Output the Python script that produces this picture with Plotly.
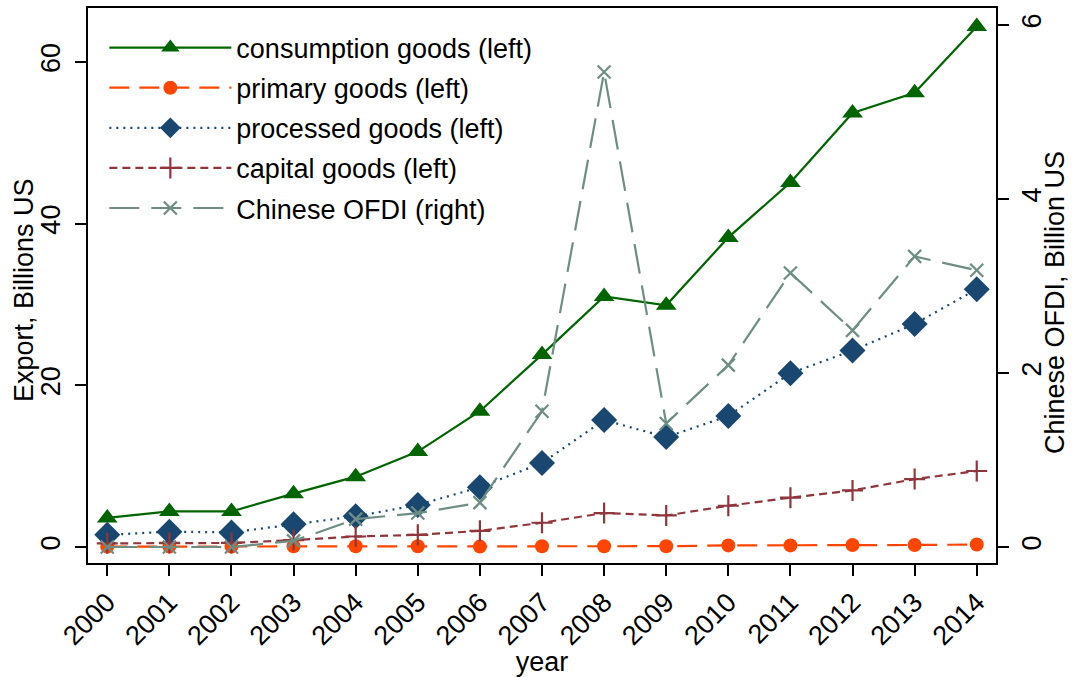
import plotly.graph_objects as go

# Years on the x axis
years = list(range(2000, 2015))

# Exports by type of goods, billions US$ (left axis)
consumption = [3.6, 4.4, 4.4, 6.6, 8.7, 11.8, 16.8, 23.8, 31.0, 29.9, 38.3, 45.1, 53.7, 56.2, 64.4]
primary = [0.05, 0.05, 0.05, 0.1, 0.1, 0.1, 0.05, 0.1, 0.1, 0.1, 0.2, 0.2, 0.25, 0.25, 0.3]
processed = [1.5, 1.9, 1.8, 2.8, 3.8, 5.2, 7.4, 10.4, 15.7, 13.6, 16.2, 21.5, 24.3, 27.6, 31.9]
capital = [0.45, 0.5, 0.5, 0.85, 1.3, 1.5, 2.0, 3.0, 4.2, 3.9, 5.1, 6.1, 7.0, 8.4, 9.4]

# Chinese outward FDI, billions US$ (right axis)
ofdi = [0.0, 0.0, 0.0, 0.07, 0.32, 0.39, 0.51, 1.56, 5.46, 1.42, 2.09, 3.15, 2.49, 3.34, 3.18]

left_ticks = [0, 20, 40, 60]
right_ticks = [0, 2, 4, 6]

FONT = "Liberation Sans, Arial, sans-serif"
FS = 27
GREEN = "#006400"
ORANGE = "#ff4500"
NAVY = "#1a476f"
MAROON = "#90353b"
TEAL = "#6e8e84"

fig = go.Figure()

fig.add_trace(go.Scatter(
    x=years, y=consumption, name="consumption goods (left)", mode="lines+markers",
    legendgroup="a",
    line=dict(color=GREEN, width=2.2),
    marker=dict(symbol="triangle-up", size=18, color=GREEN),
))
fig.add_trace(go.Scatter(
    x=years, y=primary, name="primary goods (left)", mode="lines+markers",
    legendgroup="b",
    line=dict(color=ORANGE, width=2.2, dash="20px,10px"),
    marker=dict(symbol="circle", size=14, color=ORANGE),
))
fig.add_trace(go.Scatter(
    x=years, y=processed, name="processed goods (left)", mode="lines+markers",
    legendgroup="c",
    line=dict(color=NAVY, width=2.2, dash="2px,5px"),
    marker=dict(symbol="diamond", size=20, color=NAVY),
))
fig.add_trace(go.Scatter(
    x=years, y=capital, name="capital goods (left)", mode="lines+markers",
    legendgroup="d",
    line=dict(color=MAROON, width=2.2, dash="8px,5px"),
    marker=dict(symbol="cross-thin", size=15, color=MAROON,
                line=dict(color=MAROON, width=2.2)),
))
fig.add_trace(go.Scatter(
    x=years, y=ofdi, name="Chinese OFDI (right)", mode="lines+markers", yaxis="y2",
    legendgroup="e",
    line=dict(color=TEAL, width=2.2, dash="30px,12px"),
    marker=dict(symbol="x-thin", size=13, color=TEAL,
                line=dict(color=TEAL, width=2.2)),
))

axis_common = dict(
    showgrid=False, zeroline=False, showline=True, linecolor="black", linewidth=1.5,
    ticks="outside", ticklen=11, tickwidth=1.5, tickcolor="black", automargin=False,
    tickfont=dict(family=FONT, size=FS, color="black"),
)

fig.update_layout(
    width=1072, height=677,
    margin=dict(l=88, r=76, t=8, b=114),
    paper_bgcolor="white", plot_bgcolor="white",
    font=dict(family=FONT, size=FS, color="black"),
    xaxis=dict(
        **axis_common, mirror=True, range=[1999.69, 2014.31],
        tickmode="array", tickvals=years, ticktext=[str(y) for y in years],
        tickangle=-45,
        title=dict(text="year", font=dict(family=FONT, size=FS)),
    ),
    yaxis=dict(
        **axis_common, range=[-1.98, 66.68], tickmode="array", tickvals=left_ticks,
        tickangle=-90, ticklabelstandoff=4,
    ),
    yaxis2=dict(
        **axis_common, overlaying="y", side="right", range=[-0.184, 6.195],
        tickmode="array", tickvals=right_ticks, tickangle=-90,
    ),
    legend=dict(
        x=0.018, y=0.972, xanchor="left", yanchor="top",
        bgcolor="rgba(0,0,0,0)", borderwidth=0,
        font=dict(family=FONT, size=FS, color="black"),
        itemwidth=122, tracegroupgap=2,
    ),
    showlegend=True,
)

# Vertical axis titles
fig.add_annotation(
    text="Export, Billions US", xref="paper", yref="paper",
    x=(24 - 88) / 908, y=(563 - 290) / 555, xanchor="center", yanchor="middle",
    textangle=-90, showarrow=False, font=dict(family=FONT, size=FS, color="black"),
)
fig.add_annotation(
    text="Chinese OFDI, Billion US", xref="paper", yref="paper",
    x=(1055 - 88) / 908, y=(563 - 303) / 555, xanchor="center", yanchor="middle",
    textangle=-90, showarrow=False, font=dict(family=FONT, size=FS, color="black"),
)

# Chart title sits above the visible area
fig.add_annotation(
    text="Types of goods", xref="paper", yref="paper",
    x=0.447, y=1.028, xanchor="left", yanchor="bottom", showarrow=False,
    font=dict(family=FONT, size=31, color="black"),
)

fig.write_html("out.html")
